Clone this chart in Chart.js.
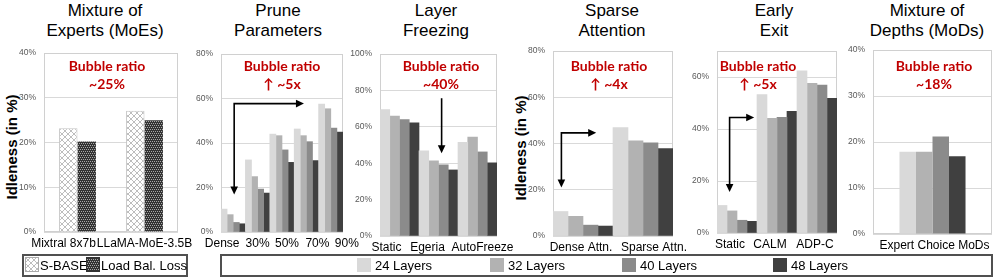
<!DOCTYPE html>
<html><head><meta charset="utf-8">
<script src="https://cdn.jsdelivr.net/npm/chart.js@4.4.1/dist/chart.umd.min.js"></script>
<style>
body{margin:0;width:996px;height:278px;background:#fff;position:relative;overflow:hidden;font-family:"Liberation Sans",Arial,sans-serif;}
canvas.c{position:absolute;}
.title{position:absolute;top:1px;font-size:17px;line-height:20px;text-align:center;color:#000;white-space:nowrap;transform:translateX(-50%);}
.anno{position:absolute;top:57px;font-family:Lato,"Open Sans",sans-serif;font-weight:bold;font-size:14px;line-height:18px;color:#c00000;text-align:center;white-space:nowrap;transform:translateX(-50%);}
.ytitle{position:absolute;font-weight:bold;font-size:15px;white-space:nowrap;transform:translate(-50%,-50%) rotate(-90deg);}
.legend{position:absolute;box-sizing:border-box;border:2px solid #505050;top:254px;height:23px;}
.li{position:absolute;top:1px;font-size:13px;line-height:17px;white-space:nowrap;color:#000;}
.sw{position:absolute;top:2px;width:14px;height:14px;}
</style></head>
<body>
<div class="title" style="left:105px">Mixture of<br>Experts (MoEs)</div>
<div class="title" style="left:278px">Prune<br>Parameters</div>
<div class="title" style="left:436px">Layer<br>Freezing</div>
<div class="title" style="left:612px">Sparse<br>Attention</div>
<div class="title" style="left:774px">Early<br>Exit</div>
<div class="title" style="left:927px">Mixture of<br>Depths (MoDs)</div>

<div class="ytitle" style="left:11px;top:147px">Idleness (in %)</div>
<div class="ytitle" style="left:520px;top:148px">Idleness (in %)</div>

<canvas class="c" id="c1"></canvas>
<canvas class="c" id="c2"></canvas>
<canvas class="c" id="c3"></canvas>
<canvas class="c" id="c4"></canvas>
<canvas class="c" id="c5"></canvas>
<canvas class="c" id="c6"></canvas>

<div class="anno" style="left:107px">Bubble ratio<br>~25%</div>
<div class="anno" style="left:282px">Bubble ratio<br>↑ ~5x</div>
<div class="anno" style="left:441px">Bubble ratio<br>~40%</div>
<div class="anno" style="left:609px">Bubble ratio<br>↑ ~4x</div>
<div class="anno" style="left:758px">Bubble ratio<br>↑ ~5x</div>
<div class="anno" style="left:934px">Bubble ratio<br>~18%</div>

<div class="legend" style="left:22px;width:166px">
  <canvas id="swA" class="sw" width="14" height="15" style="left:1px;top:1px;height:15px"></canvas>
  <div class="li" style="left:16px" id="lgA"></div>
  <canvas id="swB" class="sw" width="14" height="15" style="left:62px;top:1px;height:15px"></canvas>
  <div class="li" style="left:77px" id="lgB"></div>
</div>
<div class="legend" style="left:220px;width:773px" id="lgLayers"></div>

<script>
// ---------- data ----------
const layerNames = ['24 Layers', '32 Layers', '40 Layers', '48 Layers'];
const layerColors = ['#d9d9d9', '#b2b2b2', '#8b8b8b', '#404040'];

const moeCats = ['Mixtral 8x7b', 'LLaMA-MoE-3.5B'];
const moeSeriesNames = ['S-BASE', 'Load Bal. Loss'];
const moeSBase = [23.2, 27.1];
const moeLoadBal = [20.2, 25.0];
const moeTicks = [0, 10, 20, 30, 40];

const pruneCats = ['Dense', '30%', '50%', '70%', '90%'];
const prune24 = [10.3, 32.4, 44.0, 46.3, 57.5];
const prune32 = [7.8, 24.9, 43.3, 43.3, 55.4];
const prune40 = [4.3, 19.3, 36.9, 40.6, 46.7];
const prune48 = [3.7, 17.5, 31.3, 32.1, 44.9];
const pruneTicks = [0, 20, 40, 60, 80];

const freezeCats = ['Static', 'Egeria', 'AutoFreeze'];
const freeze24 = [69.4, 46.8, 51.4];
const freeze32 = [65.9, 41.3, 54.3];
const freeze40 = [64.0, 39.1, 46.2];
const freeze48 = [62.2, 36.3, 40.2];
const freezeTicks = [0, 20, 40, 60, 80, 100];

const sparseCats = ['Dense Attn.', 'Sparse Attn.'];
const sparse24 = [10.6, 46.9];
const sparse32 = [8.5, 41.2];
const sparse40 = [4.7, 40.3];
const sparse48 = [4.3, 37.8];
const sparseTicks = [0, 20, 40, 60, 80];

const exitCats = ['Static', 'CALM', 'ADP-C'];
const exit24 = [10.6, 53.2, 62.4];
const exit32 = [8.5, 44.1, 57.6];
const exit40 = [4.9, 44.5, 56.9];
const exit48 = [4.5, 46.8, 51.8];
const exitTicks = [0, 20, 40, 60];

const modCats = ['Expert Choice MoDs'];
const mod24 = [17.9];
const mod32 = [17.9];
const mod40 = [21.2];
const mod48 = [16.9];
const modTicks = [0, 10, 20, 30, 40];

// annotation arrows, in data units (category index, percent)
const pruneArrow = [[0.04, 16.8], [0.04, 57.7], [2.9, 57.7]];
const freezeArrow = [[1.08, 75.7], [1.08, 45.4]];
const sparseArrow = [[-0.36, 21.0], [-0.36, 44.6], [0.22, 44.6]];
const exitArrow = [[-0.185, 15.8], [-0.185, 44.4], [0.43, 44.4]];

// ---------- patterns ----------
function crossPattern() {
  const c = document.createElement('canvas'); c.width = 6; c.height = 6;
  const g = c.getContext('2d');
  g.fillStyle = '#fff'; g.fillRect(0, 0, 6, 6);
  g.strokeStyle = '#bdbdbd'; g.lineWidth = 1;
  g.beginPath(); g.moveTo(0, 0); g.lineTo(6, 6); g.moveTo(6, 0); g.lineTo(0, 6); g.stroke();
  return g.createPattern(c, 'repeat');
}
function dotPattern() {
  const c = document.createElement('canvas'); c.width = 4; c.height = 4;
  const g = c.getContext('2d');
  g.fillStyle = '#333'; g.fillRect(0, 0, 4, 4);
  g.fillStyle = '#a8a8a8';
  g.fillRect(0, 0, 1, 1); g.fillRect(2, 0, 1, 1); g.fillRect(1, 2, 1, 1); g.fillRect(3, 2, 1, 1);
  return g.createPattern(c, 'repeat');
}
const patA = crossPattern();
const patB = dotPattern();

// ---------- plugin: frame + arrows ----------
function decoPlugin(arrow, heads) {
  return {
    id: 'deco',
    beforeDatasetsDraw(chart) {
      const { ctx, chartArea: a } = chart;
      ctx.save();
      ctx.strokeStyle = '#d0d0d0'; ctx.lineWidth = 1;
      ctx.strokeRect(Math.round(a.left) + 0.5, Math.round(a.top) + 0.5,
        Math.round(a.right - a.left) - 1, Math.round(a.bottom - a.top) - 1);
      ctx.restore();
    },
    afterDatasetsDraw(chart) {
      if (!arrow) return;
      const { ctx } = chart, xs = chart.scales.x, ys = chart.scales.y;
      const p = arrow.map(([x, y]) => [xs.getPixelForValue(x), ys.getPixelForValue(y)]);
      const L = 8, HW = 3.8;
      function head(tip, from) {
        const dx = tip[0] - from[0], dy = tip[1] - from[1], d = Math.hypot(dx, dy);
        const ux = dx / d, uy = dy / d;
        ctx.beginPath();
        ctx.moveTo(tip[0], tip[1]);
        ctx.lineTo(tip[0] - ux * L - uy * HW, tip[1] - uy * L + ux * HW);
        ctx.lineTo(tip[0] - ux * L + uy * HW, tip[1] - uy * L - ux * HW);
        ctx.closePath(); ctx.fill();
      }
      const q = p.map(v => v.slice());
      function shorten(i, j) {
        const dx = q[i][0] - q[j][0], dy = q[i][1] - q[j][1], d = Math.hypot(dx, dy);
        q[i][0] -= dx / d * (L - 2); q[i][1] -= dy / d * (L - 2);
      }
      if (heads.start) shorten(0, 1);
      if (heads.end) shorten(q.length - 1, q.length - 2);
      ctx.save();
      ctx.strokeStyle = '#000'; ctx.fillStyle = '#000'; ctx.lineWidth = 1.6;
      ctx.beginPath();
      ctx.moveTo(q[0][0], q[0][1]);
      for (let i = 1; i < q.length; i++) ctx.lineTo(q[i][0], q[i][1]);
      ctx.stroke();
      if (heads.start) head(p[0], p[1]);
      if (heads.end) head(p[p.length - 1], p[p.length - 2]);
      ctx.restore();
    }
  };
}

function layerSets(arrs, catPct) {
  return arrs.map((d, i) => ({
    label: layerNames[i], data: d, backgroundColor: layerColors[i], borderWidth: 0,
    categoryPercentage: catPct, barPercentage: 1
  }));
}

function makeChart(id, box, cats, datasets, yTicks, yMax, labelShift, arrow, heads) {
  const padL = 45, padT = 6, padR = 30, xh = 24;
  const cv = document.getElementById(id);
  const W = box.r - box.l + padL + padR, H = box.b - box.t + padT + xh;
  cv.style.left = (box.l - padL) + 'px'; cv.style.top = (box.t - padT) + 'px';
  cv.width = W; cv.height = H; cv.style.width = W + 'px'; cv.style.height = H + 'px';
  return new Chart(cv, {
    type: 'bar',
    data: { labels: cats, datasets },
    options: {
      responsive: false, animation: false, devicePixelRatio: 1,
      layout: { padding: { left: 0, top: padT, right: padR, bottom: 0 } },
      plugins: { legend: { display: false }, tooltip: { enabled: false } },
      scales: {
        x: {
          grid: { display: false, drawTicks: false }, border: { display: false },
          ticks: { color: '#000', font: { family: 'Liberation Sans', size: 12 }, padding: 4,
            maxRotation: 0, minRotation: 0, autoSkip: false },
          afterFit(s) { s.height = xh; s.paddingLeft = 0; s.paddingRight = 0; },
          afterUpdate(s) {
            if (s._shiftWrapped) return;
            s._shiftWrapped = true;
            const orig = s.getPixelForTick.bind(s);
            s.getPixelForTick = i => orig(i) + (labelShift[i] || 0);
          }
        },
        y: {
          min: 0, max: yMax,
          grid: { color: '#d9d9d9', drawTicks: false }, border: { display: false },
          ticks: { padding: 8, color: '#595959', font: { family: 'Liberation Sans', size: 8.5 },
            callback: v => v + '%' },
          afterBuildTicks(s) { s.ticks = yTicks.map(v => ({ value: v })); },
          afterFit(s) { s.width = padL; s.paddingTop = 0; s.paddingBottom = 0; }
        }
      }
    },
    plugins: [decoPlugin(arrow, heads || {})]
  });
}

makeChart('c1', { l: 44, r: 178, t: 53, b: 232 }, moeCats, [
  { label: moeSeriesNames[0], data: moeSBase, backgroundColor: patA, borderColor: '#c4c4c4', borderWidth: 1,
    categoryPercentage: 0.55, barPercentage: 1 },
  { label: moeSeriesNames[1], data: moeLoadBal, backgroundColor: patB, borderColor: '#444', borderWidth: 0,
    categoryPercentage: 0.55, barPercentage: 1 }
], moeTicks, 40, [-14, 0], null);

makeChart('c2', { l: 221, r: 343, t: 54, b: 232 }, pruneCats,
  layerSets([prune24, prune32, prune40, prune48], 1), pruneTicks, 80, [-11, 0, 5, 11, 16],
  pruneArrow, { start: true, end: true });

makeChart('c3', { l: 380, r: 497, t: 54, b: 236 }, freezeCats,
  layerSets([freeze24, freeze32, freeze40, freeze48], 1), freezeTicks, 100, [-13, -11, 5],
  freezeArrow, { end: true });

makeChart('c4', { l: 553, r: 673, t: 51, b: 236 }, sparseCats,
  layerSets([sparse24, sparse32, sparse40, sparse48], 1), sparseTicks, 80, [-2, 11],
  sparseArrow, { start: true, end: true });

makeChart('c5', { l: 717, r: 837, t: 51, b: 233 }, exitCats,
  layerSets([exit24, exit32, exit40, exit48], 1), exitTicks, 70, [-7, -7, -2],
  exitArrow, { start: true, end: true });

makeChart('c6', { l: 873, r: 992, t: 50, b: 234 }, modCats,
  layerSets([mod24, mod32, mod40, mod48], 0.555), modTicks, 40, [2], null);

// ---------- legends ----------
function fillSwatch(id, pat, border) {
  const c = document.getElementById(id), g = c.getContext('2d');
  g.fillStyle = pat; g.fillRect(0, 0, c.width, c.height);
  g.strokeStyle = border; g.lineWidth = 1; g.strokeRect(0.5, 0.5, c.width - 1, c.height - 1);
}
fillSwatch('swA', patA, '#aaaaaa');
fillSwatch('swB', patB, '#333');
document.getElementById('lgA').textContent = moeSeriesNames[0];
document.getElementById('lgB').textContent = moeSeriesNames[1];

const lg = document.getElementById('lgLayers');
const swX = [135, 268, 400, 551];
layerNames.forEach((n, i) => {
  const s = document.createElement('div'); s.className = 'sw';
  s.style.left = swX[i] + 'px'; s.style.background = layerColors[i];
  lg.appendChild(s);
  const t = document.createElement('div'); t.className = 'li';
  t.style.left = (swX[i] + 18) + 'px'; t.textContent = n;
  lg.appendChild(t);
});
</script>
</body></html>
